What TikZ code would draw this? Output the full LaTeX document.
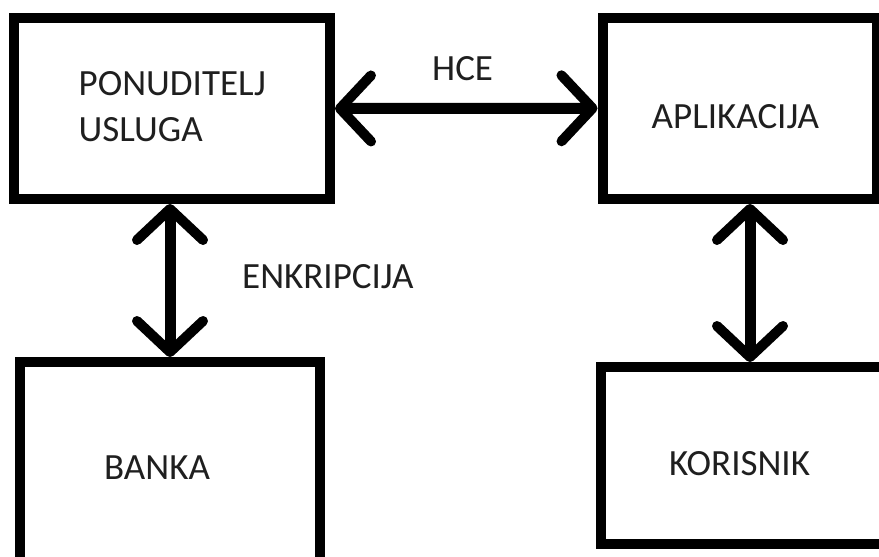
\documentclass[tikz,border=0pt]{standalone}
\usepackage{fontspec}
\setmainfont{Carlito}
\usetikzlibrary{arrows.meta}
\begin{document}
\begin{tikzpicture}[x=1pt,y=-1pt,
  box/.style={draw=black, line width=10pt, inner sep=0pt, fill=none},
  lbl/.style={inner sep=0pt, anchor=base west, text=black!88, font=\fontsize{37}{46}\selectfont, align=left},
  biarrow/.style={line width=11pt, {Straight Barb[length=31pt,width=66pt,line width=10pt,round]}-{Straight Barb[length=31pt,width=66pt,line width=10pt,round]}}
]
\useasboundingbox (0,0) rectangle (879,557);
\clip (0,0) rectangle (879,557);
\fill[white] (0,0) rectangle (879,557);
% boxes
\node[box, minimum width=316pt, minimum height=181pt] (pon) at (172,108.5) {};
\node[box, minimum width=274.5pt, minimum height=181.5pt] (app) at (739.75,108.25) {};
\node[box, minimum width=300pt, minimum height=205pt] (ban) at (170,464.5) {};
\node[box, minimum width=284pt, minimum height=177pt] (kor) at (743,455.5) {};
% labels
\node[lbl] (tpon) at (78.5,141) {PONUDITELJ\\USLUGA};
\node[lbl] (tapp) at (651.5,128) {APLIKACIJA};
\node[lbl] (tban) at (104,479) {BANKA};
\node[lbl] (tkor) at (669,475) {KORISNIK};
\node[lbl] (thce) at (432,80) {HCE};
\node[lbl] (tenc) at (242,288) {ENKRIPCIJA};
% connectors
\draw[biarrow] (pon.east) -- (app.west);
\draw[biarrow] (ban.north |- pon.south) -- (ban.north);
\draw[biarrow] ([xshift=10.25pt]app.south) -- ([xshift=10.25pt]app.south |- kor.north);
\end{tikzpicture}
\end{document}
